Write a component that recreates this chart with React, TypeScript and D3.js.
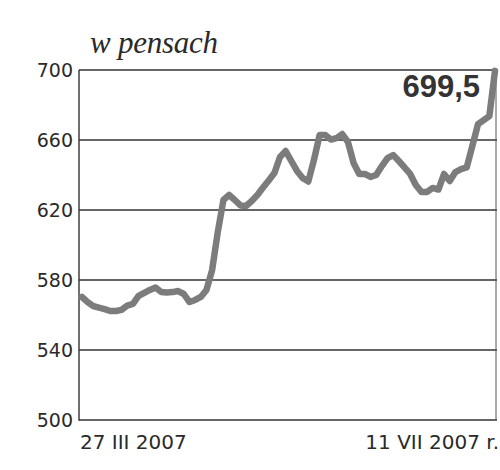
import React from "react";
import * as d3 from "d3";

const title = "w pensach";
const startLabel = "27 III 2007";
const endLabel = "11 VII 2007 r.";
const lastLabel = "699,5";
const yTicks = [500, 540, 580, 620, 660, 700];

// trading-day index 0..73, price in pence
const prices = [
  570.3, 567.4, 565.1, 564.2, 563.4, 562.3, 562.3, 562.9, 565.4, 566.3,
  570.9, 572.6, 574.3, 575.7, 573.1, 572.9, 573.1, 573.7, 572.0, 567.4,
  568.6, 570.3, 574.3, 585.7, 607.4, 625.7, 628.6, 625.7, 622.6, 622.3,
  625.1, 628.6, 632.9, 636.9, 641.1, 650.3, 653.7, 648.0, 642.3, 638.3,
  636.3, 648.6, 662.9, 662.9, 660.3, 661.1, 663.4, 658.9, 646.9, 640.6,
  640.6, 638.9, 640.0, 645.1, 649.7, 651.4, 648.0, 644.3, 640.6, 634.3,
  630.3, 630.3, 632.6, 631.7, 640.6, 636.6, 641.7, 643.4, 644.3, 656.6,
  669.1, 671.4, 673.7, 699.5,
];

export default function App() {
  const W = 500, H = 470;
  const left = 79, right = 497, top = 70, bottom = 420;
  const x = d3.scaleLinear().domain([0, prices.length - 1]).range([82, 495]);
  const y = d3.scaleLinear().domain([500, 700]).range([bottom, top]);
  const line = d3
    .line<number>()
    .x((_, i) => x(i))
    .y((d) => y(d))
    .curve(d3.curveLinear);
  const txt = "#2a2a2a";
  return (
    <div style={{ position: "absolute", left: 0, top: 0 }}>
      <svg width={W} height={H} style={{ display: "block", background: "#fff" }}>
        <text
          x={90}
          y={53}
          fontFamily="'Liberation Serif', 'Times New Roman', 'DejaVu Serif', serif"
          fontStyle="italic"
          fontSize={31}
          textLength={128}
          lengthAdjust="spacing"
          fill={txt}
        >
          {title}
        </text>
        {yTicks.map((t) => (
          <g key={t}>
            <line
              x1={left}
              x2={right}
              y1={y(t)}
              y2={y(t)}
              stroke="#333"
              strokeWidth={1.4}
            />
            <text
              x={73}
              y={y(t)}
              dy="0.36em"
              textAnchor="end"
              fontFamily="'DejaVu Sans', sans-serif"
              fontSize={19}
              fill={txt}
            >
              {t}
            </text>
          </g>
        ))}
        <line x1={left} x2={left} y1={top} y2={bottom + 0.7} stroke="#333" strokeWidth={1.4} />
        <line x1={right - 1} x2={right - 1} y1={top} y2={bottom} stroke="#555" strokeWidth={1} />
        <path
          d={line(prices) || ""}
          fill="none"
          stroke="#7c7c7c"
          strokeWidth={6.5}
          strokeLinejoin="round"
          strokeLinecap="round"
        />
        <text
          x={480}
          y={97}
          textAnchor="end"
          fontFamily="'Liberation Sans', Arial, sans-serif"
          fontWeight="bold"
          fontSize={31}
          fill="#333"
        >
          {lastLabel}
        </text>
        <text
          x={80}
          y={449}
          fontFamily="'DejaVu Sans', sans-serif"
          fontSize={20}
          fill={txt}
        >
          {startLabel}
        </text>
        <text
          x={499}
          y={449}
          textAnchor="end"
          fontFamily="'DejaVu Sans', sans-serif"
          fontSize={20}
          fill={txt}
        >
          {endLabel}
        </text>
      </svg>
    </div>
  );
}
